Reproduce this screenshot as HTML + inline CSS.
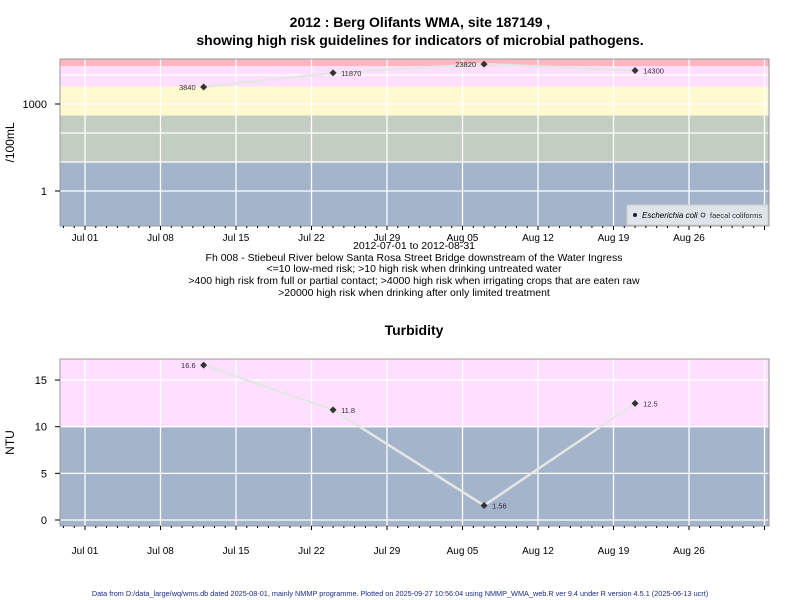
<!DOCTYPE html>
<html><head><meta charset="utf-8"><style>
body{margin:0;background:#fff;}
svg{display:block;font-family:"Liberation Sans",sans-serif;}
</style></head><body>
<svg id="c" width="800" height="600" viewBox="0 0 800 600">
<text x="420" y="27" text-anchor="middle" font-size="14" font-weight="bold">2012 : Berg Olifants WMA, site 187149 ,</text>
<text x="420" y="45" text-anchor="middle" font-size="14" font-weight="bold">showing high risk guidelines for indicators of microbial pathogens.</text>
<text x="414" y="249" text-anchor="middle" font-size="10.5">2012-07-01 to 2012-08-31</text>
<text x="414" y="261" text-anchor="middle" font-size="10.5">Fh 008 - Stiebeul River below Santa Rosa Street Bridge downstream of the Water Ingress</text>
<text x="414" y="272" text-anchor="middle" font-size="10.5">&lt;=10 low-med risk; &gt;10 high risk when drinking untreated water</text>
<text x="414" y="284" text-anchor="middle" font-size="10.5">&gt;400 high risk from full or partial contact; &gt;4000 high risk when irrigating crops that are eaten raw</text>
<text x="414" y="296" text-anchor="middle" font-size="10.5">&gt;20000 high risk when drinking after only limited treatment</text>
<text x="414" y="335" text-anchor="middle" font-size="14" font-weight="bold">Turbidity</text>
<text x="400" y="596" text-anchor="middle" font-size="7.3" fill="#1a2a8a">Data from D:/data_large/wq/wms.db dated 2025-08-01, mainly NMMP programme. Plotted on 2025-09-27 10:56:04 using NMMP_WMA_web.R ver 9.4 under R version 4.5.1 (2025-06-13 ucrt)</text>
<g id="top"></g><g id="bot"></g>
</svg>
<script>
const ecoliDays=[11,23,37,51];
const ecoliVals=[3840,11870,23820,14300];
const turbDays=[11,23,37,51];
const turbVals=[16.6,11.8,1.56,12.5];
const tickLabels=["Jul 01","Jul 08","Jul 15","Jul 22","Jul 29","Aug 05","Aug 12","Aug 19","Aug 26"];
const logTicks=[1,1000];
const turbTicks=[0,5,10,15];
const ecoliBands=[[20000,1e9,"#ffb6c1"],[4000,20000,"#ffdfff"],[400,4000,"#fff9d0"],[10,400,"#c4cdc1"],[1e-9,10,"#a3b4cb"]];
const turbBands=[[10,1e9,"#ffdfff"],[-1e9,10,"#a3b4cb"]];
const NS="http://www.w3.org/2000/svg";
const L=60,R=769;
const xs=d=>85+d*(75.5/7);
function mk(p,t,a){const e=document.createElementNS(NS,t);for(const k in a)e.setAttribute(k,a[k]);p.appendChild(e);return e;}
function panel(g,top,bot,ys,bands,ticks,tickFmt,grid,days,vals,labFmt,ylabel,name,labAlign,labOff){
  const cl=v=>Math.max(top,Math.min(bot,v));
  bands.forEach(b=>{const y1=cl(ys(b[1])),y2=cl(ys(b[0]));const r=mk(g,'rect',{x:L,y:y1,width:R-L,height:y2-y1,fill:b[2]});
    
    });
  grid.forEach(v=>{const y=ys(v);if(y>top&&y<bot){const l=mk(g,'line',{x1:L,x2:R,y1:y,y2:y,stroke:'#fff','stroke-width':1.3});
    
    }});
  for(let i=0;i<10;i++){const x=xs(i*7);const l=mk(g,'line',{x1:x,x2:x,y1:top,y2:bot,stroke:'#fff','stroke-width':1.3});
    
    }
  const f=mk(g,'rect',{x:L,y:top,width:R-L,height:bot-top,fill:'none',stroke:'#999'});
  
  
  for(let d=-2;d<=63;d++){const x=xs(d);const maj=d%7===0;mk(g,'line',{x1:x,x2:x,y1:bot,y2:bot+(maj?4:2),stroke:'#000'});}
  tickLabels.forEach((t,i)=>{const e=mk(g,'text',{x:xs(i*7),y:bot+labOff,'text-anchor':'middle','font-size':10});e.textContent=t;
    
    });
  ticks.forEach(v=>{const y=ys(v);mk(g,'line',{x1:L-5,x2:L,y1:y,y2:y,stroke:'#000'});
    const e=mk(g,'text',{x:L-13,y:y+4,'text-anchor':'end','font-size':11});e.textContent=tickFmt(v);
    
    });
  const yl=mk(g,'text',{x:0,y:0,'text-anchor':'middle','font-size':12,transform:`translate(14,${(top+bot)/2}) rotate(-90)`});yl.textContent=ylabel;
  
  
  const pts=days.map((d,i)=>xs(d)+','+ys(vals[i])).join(' ');
  const pl=mk(g,'polyline',{points:pts,fill:'none',stroke:'#e6e6e6','stroke-width':2.5});
  
  
  days.forEach((d,i)=>{const x=xs(d),y=ys(vals[i]);
    const p=mk(g,'path',{d:`M${x-3.5},${y}L${x},${y-3.5}L${x+3.5},${y}L${x},${y+3.5}Z`,fill:'#333'});
    
    
    const left=labAlign(i);
    const t=mk(g,'text',{x:left?x-8:x+8,y:y+3,'text-anchor':left?'end':'start','font-size':7.5,fill:'#3a2a3a'});t.textContent=labFmt(vals[i]);
    
    });
}
const ysLog=v=>191-29*Math.log10(v);
panel(document.getElementById('top'),59,226,ysLog,ecoliBands,logTicks,v=>String(v),[1,10,100,1000,10000],ecoliDays,ecoliVals,v=>String(v),'/100mL','ecoli',i=>i===0||i===2,15);
const ysT=v=>520-v*(93.3/10);
panel(document.getElementById('bot'),359,526,ysT,turbBands,turbTicks,v=>String(v),[0,5,10,15],turbDays,turbVals,v=>String(v),'NTU','turbidity',i=>i===0,28);
// legend
const tg=document.getElementById('top');
const lg=mk(tg,'rect',{x:627,y:205,width:141,height:20,fill:'#dfe3ea',stroke:'#ccc'});


mk(tg,'circle',{cx:635,cy:215,r:2,fill:'#222'});
const l1=mk(tg,'text',{x:642,y:218,'font-size':8,'font-style':'italic'});l1.textContent='Escherichia coli';


mk(tg,'circle',{cx:703,cy:215,r:2,fill:'none',stroke:'#222','stroke-width':0.8});
const l2=mk(tg,'text',{x:710,y:218,'font-size':7.5,fill:'#333'});l2.textContent='faecal coliforms';


</script>
</body></html>
